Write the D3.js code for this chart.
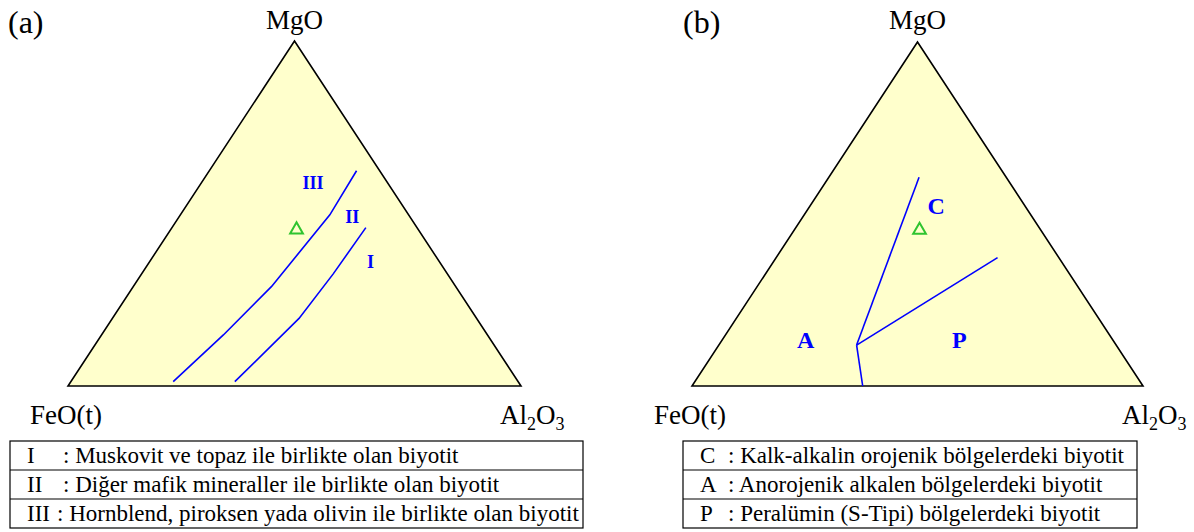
<!DOCTYPE html>
<html><head><meta charset="utf-8">
<script src="https://cdn.jsdelivr.net/npm/d3@7"></script>
<style>
html,body{margin:0;padding:0;background:#fff;}
svg{display:block;}
svg text{font-family:"Liberation Serif",serif;}
</style></head><body>
<svg id="chart" width="1194" height="532" font-family="Liberation Serif"></svg>
<script>
// Compositions are given as [MgO, Al2O3] fractions; FeO(t) is the remainder.
const panelTags = ["(a)", "(b)"];

// (a) field boundaries
const boundaryIII_II = [[0.624,0.325],[0.496,0.330],[0.288,0.305],[0.148,0.269],[0.0125,0.226]];
const boundaryII_I  = [[0.459,0.428],[0.325,0.423],[0.196,0.412],[0.0125,0.362]];
const fieldLabelsA = ["III", "II", "I"];
const fieldLabelPosA = [[0.590,0.246],[0.491,0.382],[0.360,0.488]];

// (b) field boundaries (C / A / P)
const boundaryCA = [[0.607,0.200],[0.119,0.3055]];
const boundaryCP = [[0.119,0.3055],[0.373,0.491]];
const boundaryAP = [[0.119,0.3055],[0.0,0.3785]];
const fieldLabelsB = ["C", "A", "P"];
const fieldLabelPosB = [[0.523,0.280],[0.134,0.185],[0.134,0.526]];

// biotite sample
const sample = [[0.453,0.278]];

// legend rows
const legendKeysA = ["I", "II", "III"];
const legendTextA = [": Muskovit ve topaz ile birlikte olan biyotit",
                     ": Diğer mafik mineraller ile birlikte olan biyotit",
                     ": Hornblend, piroksen yada olivin ile birlikte olan biyotit"];
const legendKeysB = ["C", "A", "P"];
const legendTextB = [": Kalk-alkalin orojenik bölgelerdeki biyotit",
                     ": Anorojenik alkalen bölgelerdeki biyotit",
                     ": Peralümin (S-Tipi) bölgelerdeki biyotit"];

const svg = d3.select("#chart");
const SERIF = "Liberation Serif";
const BLUE = "#0000ff", GREEN = "#2fc42f", FILL = "#ffffcc";

function ternary(geom) {
  const y = d3.scaleLinear().domain([0,1]).range([geom.bottom, geom.top]);
  const shift = d3.scaleLinear().domain([0,1]).range([0, geom.width/2]);
  const al = d3.scaleLinear().domain([0,1]).range([geom.left, geom.left + geom.width]);
  return d => [al(d[1]) + shift(d[0]), y(d[0])];
}

function drawPanel(geom, tag, lines, labels, labelPos, legendKeys, legendText, legendGeom) {
  const p = ternary(geom);
  const g = svg.append("g").attr("font-family", SERIF);
  const corners = [[1,0],[0,0],[0,1]];
  g.append("path")
    .attr("d", d3.line()(corners.map(p)) + "Z")
    .attr("fill", FILL).attr("stroke", "#000").attr("stroke-width", 1.6)
    .attr("stroke-linejoin", "miter");

  const line = d3.line().x(d => p(d)[0]).y(d => p(d)[1]);
  lines.forEach(l => g.append("path").attr("d", line(l))
    .attr("fill", "none").attr("stroke", BLUE).attr("stroke-width", 1.6));

  g.selectAll("text.field").data(labels).join("text")
    .attr("class", "field")
    .attr("x", (d,i) => p(labelPos[i])[0])
    .attr("y", (d,i) => p(labelPos[i])[1])
    .attr("dy", "0.35em")
    .attr("text-anchor", "middle")
    .attr("font-family", SERIF)
    .attr("font-weight", "bold")
    .attr("font-size", geom.labelSize)
    .attr("fill", BLUE)
    .text(d => d);

  // sample marker
  const tri = d3.symbol().type(d3.symbolTriangle).size(geom.markerSize);
  g.selectAll("path.sample").data(sample).join("path")
    .attr("class", "sample")
    .attr("transform", d => `translate(${p(d)[0]},${p(d)[1]})`)
    .attr("d", tri())
    .attr("fill", "none").attr("stroke", GREEN).attr("stroke-width", 2);

  // vertex labels
  const top = p([1,0]), left = p([0,0]), right = p([0,1]);
  g.append("text").attr("x", top[0]).attr("y", 29).attr("text-anchor", "middle")
    .attr("font-family", SERIF).attr("font-size", 27).text("MgO");
  g.append("text").attr("x", left[0] - 2).attr("y", 424).attr("text-anchor", "middle")
    .attr("font-family", SERIF).attr("font-size", 27).text("FeO(t)");
  const al = g.append("text").attr("x", right[0] - 21).attr("y", 424)
    .attr("font-family", SERIF).attr("font-size", 27);
  al.append("tspan").text("Al");
  al.append("tspan").attr("dy", 6).attr("font-size", 18).text("2");
  al.append("tspan").attr("dy", -6).text("O");
  al.append("tspan").attr("dy", 6).attr("font-size", 18).text("3");

  g.append("text").attr("x", geom.tagX).attr("y", 33)
    .attr("font-family", SERIF).attr("font-size", 32).text(tag);

  // legend table
  const lg = legendGeom;
  const rows = d3.range(legendKeys.length);
  const rowY = d3.scaleBand().domain(rows).range([lg.y, lg.y + lg.h]);
  const leg = g.append("g");
  leg.append("rect").attr("x", lg.x).attr("y", lg.y).attr("width", lg.w).attr("height", lg.h)
    .attr("fill", "none").attr("stroke", "#000").attr("stroke-width", 1.2);
  leg.selectAll("line").data(rows.slice(1)).join("line")
    .attr("x1", lg.x).attr("x2", lg.x + lg.w)
    .attr("y1", d => rowY(d)).attr("y2", d => rowY(d))
    .attr("stroke", "#000").attr("stroke-width", 1.2);
  leg.selectAll("text.key").data(legendKeys).join("text")
    .attr("class", "key")
    .attr("x", lg.keyX).attr("y", (d,i) => rowY(i) + rowY.bandwidth() - 7)
    .attr("font-family", SERIF).attr("font-size", lg.fs).text(d => d);
  leg.selectAll("text.desc").data(legendText).join("text")
    .attr("class", "desc")
    .attr("x", (d,i) => lg.descX[i]).attr("y", (d,i) => rowY(i) + rowY.bandwidth() - 7)
    .attr("font-family", SERIF).attr("font-size", lg.fs).text(d => d);
}

drawPanel({left: 68, width: 453, top: 41, bottom: 386, labelSize: 18, markerSize: 70, tagX: 8},
  panelTags[0], [boundaryIII_II, boundaryII_I], fieldLabelsA, fieldLabelPosA,
  legendKeysA, legendTextA,
  {x: 10, y: 441, w: 573, h: 87, keyX: 27, descX: [63, 63, 57], fs: 23});

drawPanel({left: 692, width: 451, top: 42, bottom: 386, labelSize: 24, markerSize: 70, tagX: 683},
  panelTags[1], [boundaryCA, boundaryCP, boundaryAP], fieldLabelsB, fieldLabelPosB,
  legendKeysB, legendTextB,
  {x: 683, y: 441, w: 454, h: 87, keyX: 700, descX: [728, 728, 728], fs: 23});
</script>
</body></html>
